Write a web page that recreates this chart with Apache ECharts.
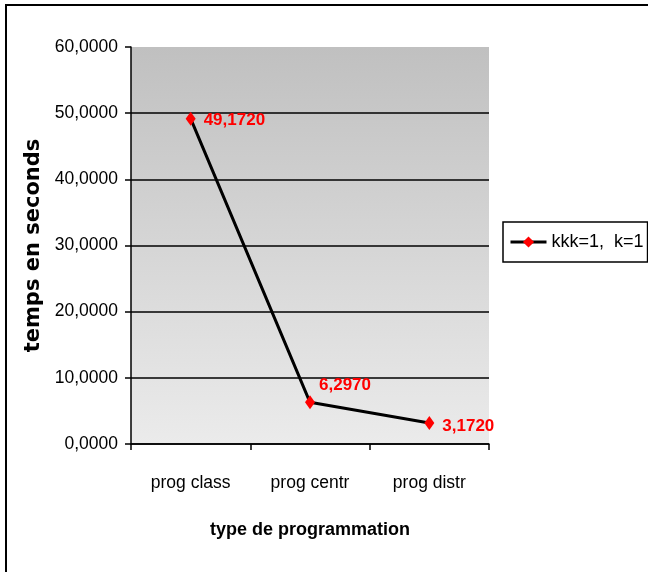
<!DOCTYPE html>
<html><head><meta charset="utf-8">
<script src="https://cdn.jsdelivr.net/npm/echarts@6/dist/echarts.min.js"></script>
<style>html,body{margin:0;padding:0;background:#fff}#c{width:648px;height:572px}</style>
</head><body><div id="c"></div>
<script>
const categories = ['prog class', 'prog centr', 'prog distr'];
const seriesName = 'kkk=1,  k=1';
const values = [49.172, 6.297, 3.172];
const yMin = 0, yMax = 60, yInterval = 10;
const labelOffsets = [[0, 2], [-4, -17], [0, 3]];

const FONT = "'Liberation Sans',Arial,sans-serif";
const WIDE = "'DejaVu Sans',sans-serif";
const fmt = v => v.toFixed(4).replace('.', ',');

const chart = echarts.init(document.getElementById('c'), null, {renderer: 'canvas'});
chart.setOption({
  backgroundColor: '#ffffff',
  animation: false,
  graphic: [
    {type: 'line', shape: {x1: 6, y1: 4, x2: 6, y2: 572}, style: {stroke: '#000', lineWidth: 2}},
    {type: 'line', shape: {x1: 5, y1: 5, x2: 648, y2: 5}, style: {stroke: '#000', lineWidth: 2}}
  ],
  grid: {
    left: 131, right: 159, top: 47, bottom: 128,
    show: true, borderWidth: 0,
    backgroundColor: new echarts.graphic.LinearGradient(0, 0, 0, 1, [
      {offset: 0, color: '#c0c0c0'},
      {offset: 1, color: '#ebebeb'}
    ])
  },
  legend: {
    left: 503, top: 222, width: 145,
    padding: [11, 4, 11, 6],
    borderColor: '#000', borderWidth: 1.5,
    itemWidth: 36, itemHeight: 14, itemGap: 4,
    lineStyle: {width: 3, color: '#000'},
    textStyle: {fontFamily: FONT, fontSize: 18, color: '#000'},
    data: [seriesName]
  },
  xAxis: {
    type: 'category', data: categories, boundaryGap: true,
    name: 'type de programmation', nameLocation: 'middle', nameGap: 77,
    nameTextStyle: {fontFamily: FONT, fontSize: 18, fontWeight: 'bold', color: '#000'},
    axisLine: {lineStyle: {color: '#000', width: 1.5}},
    axisTick: {show: true, length: 6, alignWithLabel: false, lineStyle: {color: '#000', width: 1.5}},
    axisLabel: {fontFamily: FONT, fontSize: 17.5, color: '#000', margin: 30}
  },
  yAxis: {
    type: 'value', min: yMin, max: yMax, interval: yInterval,
    name: 'temps en seconds', nameLocation: 'middle', nameGap: 87,
    nameTextStyle: {fontFamily: WIDE, fontSize: 21, fontWeight: 'bold', color: '#000'},
    axisLine: {show: true, lineStyle: {color: '#000', width: 1.5}},
    axisTick: {show: true, length: 6, lineStyle: {color: '#000', width: 1.5}},
    axisLabel: {fontFamily: FONT, fontSize: 17.5, color: '#000', margin: 13, formatter: v => fmt(v)},
    splitLine: {show: true, showMaxLine: false, lineStyle: {color: '#000', width: 1.5}}
  },
  series: [{
    name: seriesName, type: 'line',
    data: values.map((v, i) => ({value: v, label: {offset: labelOffsets[i]}})),
    symbol: 'diamond', symbolSize: [10, 14],
    itemStyle: {color: '#ff0000', borderWidth: 0},
    lineStyle: {color: '#000', width: 3},
    label: {
      show: true, position: 'right', distance: 8,
      fontFamily: FONT, fontSize: 17, fontWeight: 'bold', color: '#ff0000',
      formatter: p => fmt(p.value)
    }
  }]
});
</script></body></html>
